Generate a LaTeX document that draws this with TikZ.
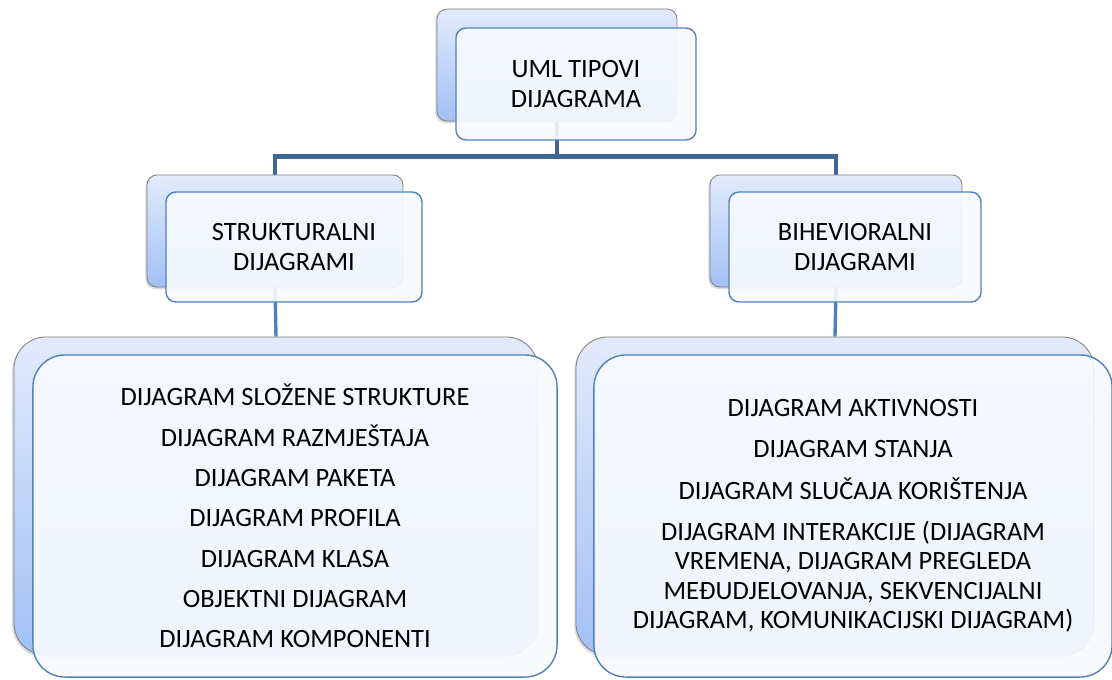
\documentclass[tikz,border=0pt]{standalone}
\usepackage{fontspec}
\setmainfont{Carlito}
\usetikzlibrary{shadows,backgrounds,calc}
\definecolor{edgeblue}{HTML}{4F81BD}
\definecolor{trunkblue}{HTML}{3F6796}
\definecolor{backtop}{HTML}{E2EBFB}
\definecolor{backbot}{HTML}{A2C0F5}
\definecolor{frontfill}{HTML}{F8FAFE}
\tikzset{
  backbox/.style={draw=gray, line width=0.6pt, top color=backtop, bottom color=backbot,
    drop shadow={shadow xshift=-1.2pt, shadow yshift=-1.5pt, opacity=0.3}},
  frontbox/.style={draw=edgeblue, line width=1pt, fill=frontfill, fill opacity=0.9,
    text opacity=1, align=center, inner sep=0pt},
  trunk/.style={draw=trunkblue, line width=3pt},
  link/.style={draw=edgeblue, line width=2.4pt}
}

\begin{document}
\begin{tikzpicture}[x=0.025cm, y=-0.025cm, every node/.style={font=\fontsize{18.8}{21}\selectfont}]
\useasboundingbox (0,0) rectangle (1112,679);

% Top box
\node[backbox, rounded corners=0.25cm, minimum width=6cm, minimum height=2.8cm] (topB) at (557,65) {};
\node[frontbox, rounded corners=0.25cm, minimum width=6cm, minimum height=2.8cm] (topF) at (576,84) {UML TIPOVI\\DIJAGRAMA};

% Middle boxes
\node[backbox, rounded corners=0.25cm, minimum width=6.4cm, minimum height=2.8cm] (strukB) at (275,231) {};
\node[frontbox, rounded corners=0.25cm, minimum width=6.4cm, minimum height=2.75cm] (strukF) at (294,247) {STRUKTURALNI\\DIJAGRAMI};
\node[backbox, rounded corners=0.25cm, minimum width=6.3cm, minimum height=2.8cm] (bihevB) at (836,231) {};
\node[frontbox, rounded corners=0.25cm, minimum width=6.3cm, minimum height=2.75cm] (bihevF) at (855,247) {BIHEVIORALNI\\DIJAGRAMI};

% Lists
\node[backbox, rounded corners=0.8cm, minimum width=13.1cm, minimum height=7.95cm] (listLB) at (276,496) {};
\node[frontbox, rounded corners=0.8cm, minimum width=13.1cm, minimum height=8.05cm] (listLF) at (295,516)
  {DIJAGRAM SLOŽENE STRUKTURE\\[0.27cm] DIJAGRAM RAZMJEŠTAJA\\[0.27cm] DIJAGRAM PAKETA\\[0.27cm]
   DIJAGRAM PROFILA\\[0.27cm] DIJAGRAM KLASA\\[0.27cm] OBJEKTNI DIJAGRAM\\[0.27cm] DIJAGRAM KOMPONENTI};
\node[backbox, rounded corners=0.8cm, minimum width=12.95cm, minimum height=7.95cm] (listRB) at (835,496) {};
\node[frontbox, rounded corners=0.8cm, minimum width=12.95cm, minimum height=8.05cm] (listRF) at (853,516)
  {DIJAGRAM AKTIVNOSTI\\[0.29cm] DIJAGRAM STANJA\\[0.29cm] DIJAGRAM SLUČAJA KORIŠTENJA\\[0.29cm]
   DIJAGRAM INTERAKCIJE (DIJAGRAM\\ VREMENA, DIJAGRAM PREGLEDA\\ MEĐUDJELOVANJA, SEKVENCIJALNI\\ DIJAGRAM, KOMUNIKACIJSKI DIJAGRAM)};

% Connectors
\begin{pgfonlayer}{background}
\coordinate (fork) at ($(topB.south)+(0,35)$);
\draw[trunk] (topB.south) -- (fork);
\draw[trunk] (fork) -| (strukB.north);
\draw[trunk] (fork) -| (bihevB.north);
\draw[link] (strukB.south) -- (listLB.north);
\draw[link] (bihevB.south) -- (listRB.north);
\end{pgfonlayer}
\end{tikzpicture}
\end{document}
